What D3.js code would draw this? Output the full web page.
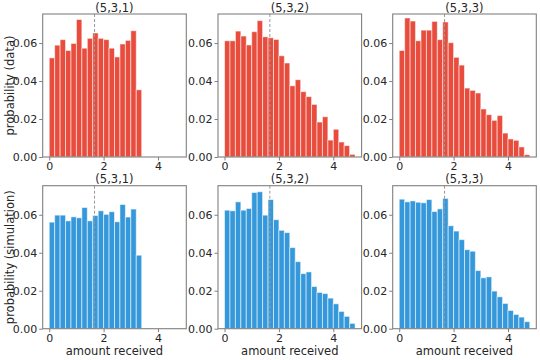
<!DOCTYPE html>
<html><head><meta charset="utf-8">
<script src="https://cdn.jsdelivr.net/npm/d3@7"></script>
<style>body{margin:0;background:#fff}svg{display:block}text{font-family:"DejaVu Sans",sans-serif}</style>
</head><body><svg id="c" width="540" height="360"></svg>
<script>
const titles = ["(5,3,1)", "(5,3,2)", "(5,3,3)"];
const rowLabels = ["probability (data)", "probability (simulation)"];
const xTicks = [0, 2, 4];
const yTicks = [0, 0.02, 0.04, 0.06];
const binWidth = 0.2;
const meanLine = 5 / 3;
const data531 = [0.0522,0.0589,0.0618,0.0561,0.0598,0.0724,0.0573,0.0625,0.0653,0.0625,0.0618,0.0573,0.0527,0.0595,0.0614,0.0665,0.0354];
const data532 = [0.0612,0.0612,0.0663,0.0637,0.0590,0.0660,0.0718,0.0633,0.0628,0.0619,0.0533,0.0495,0.0375,0.0407,0.0344,0.0318,0.0277,0.0184,0.0212,0.0089,0.0146,0.0079,0.0060,0.0014];
const data533 = [0.0561,0.0732,0.0716,0.0612,0.0668,0.0668,0.0714,0.0618,0.0711,0.0602,0.0525,0.0484,0.0363,0.0351,0.0337,0.0253,0.0223,0.0193,0.0218,0.0126,0.0095,0.0088,0.0053,0.0012];
const sim531 = [0.0561,0.0598,0.0598,0.0568,0.0589,0.0584,0.0638,0.0568,0.0596,0.0621,0.0602,0.0616,0.0563,0.0654,0.0588,0.0630,0.0387];
const sim532 = [0.0624,0.0621,0.0668,0.0624,0.0633,0.0717,0.0721,0.0598,0.0680,0.0574,0.0518,0.0506,0.0427,0.0353,0.0290,0.0299,0.0222,0.0191,0.0185,0.0161,0.0131,0.0091,0.0065,0.0028];
const sim533 = [0.0682,0.0668,0.0673,0.0666,0.0663,0.0680,0.0617,0.0631,0.0686,0.0542,0.0514,0.0469,0.0416,0.0408,0.0306,0.0268,0.0273,0.0198,0.0168,0.0133,0.0096,0.0075,0.0061,0.0037];

const rows = [[data531, data532, data533], [sim531, sim532, sim533]];
const colors = ["#e74c3c", "#3498db"];
const colLeft = [42.7, 218, 392.7];
const pw = 143.6;
const rowTop = [14, 185.7];
const ph = 143;
const xDomain = [-0.24, 5.04];
const yDomain = [0, 0.0753];
const axisColor = "#808080";
const textColor = "#262626";

const svg = d3.select("#c");
rows.forEach((series, r) => {
  series.forEach((vals, c) => {
    const g = svg.append("g").attr("transform", `translate(${colLeft[c]},${rowTop[r]})`);
    const x = d3.scaleLinear().domain(xDomain).range([0, pw]);
    const y = d3.scaleLinear().domain(yDomain).range([ph, 0]);
    g.selectAll("rect.bar").data(vals).enter().append("rect")
      .attr("class", "bar")
      .attr("x", (d, i) => x(i * binWidth))
      .attr("width", (d, i) => x((i + 1) * binWidth) - x(i * binWidth))
      .attr("y", d => y(d))
      .attr("height", d => y(0) - y(d))
      .attr("fill", colors[r])
      .attr("stroke", "#ffffff").attr("stroke-opacity", 0.55).attr("stroke-width", 1);
    g.append("line")
      .attr("x1", x(meanLine)).attr("x2", x(meanLine))
      .attr("y1", 0).attr("y2", ph)
      .attr("stroke", "#999").attr("stroke-width", 1).attr("stroke-dasharray", "3,2");
    const xa = g.append("g").attr("transform", `translate(0,${ph})`)
      .call(d3.axisBottom(x).tickValues(xTicks).tickFormat(d3.format("d")).tickSize(3.5).tickPadding(2));
    const ya = g.append("g")
      .call(d3.axisLeft(y).tickValues(yTicks).tickFormat(d3.format(".2f")).tickSize(3.5).tickPadding(2));
    [xa, ya].forEach(a => {
      a.select(".domain").remove();
      a.selectAll(".tick line").attr("stroke", axisColor);
      a.selectAll(".tick text").attr("fill", textColor).style("font-size", "11px");
    });
    g.append("rect").attr("x", 0).attr("y", 0).attr("width", pw).attr("height", ph)
      .attr("fill", "none").attr("stroke", axisColor).attr("stroke-width", 1.1);
    g.append("text").attr("x", pw / 2).attr("y", -2.5).attr("text-anchor", "middle")
      .attr("fill", textColor).style("font-size", "11.5px").text(titles[c]);
    if (c === 0) {
      g.append("text").attr("transform", `translate(${-29},${ph / 2}) rotate(-90)`)
        .attr("text-anchor", "middle").attr("fill", textColor).style("font-size", "11.5px")
        .text(rowLabels[r]);
    }
    if (r === 1) {
      g.append("text").attr("x", pw / 2).attr("y", ph + 26).attr("text-anchor", "middle")
        .attr("fill", textColor).style("font-size", "11.5px").text("amount received");
    }
  });
});
</script></body></html>
